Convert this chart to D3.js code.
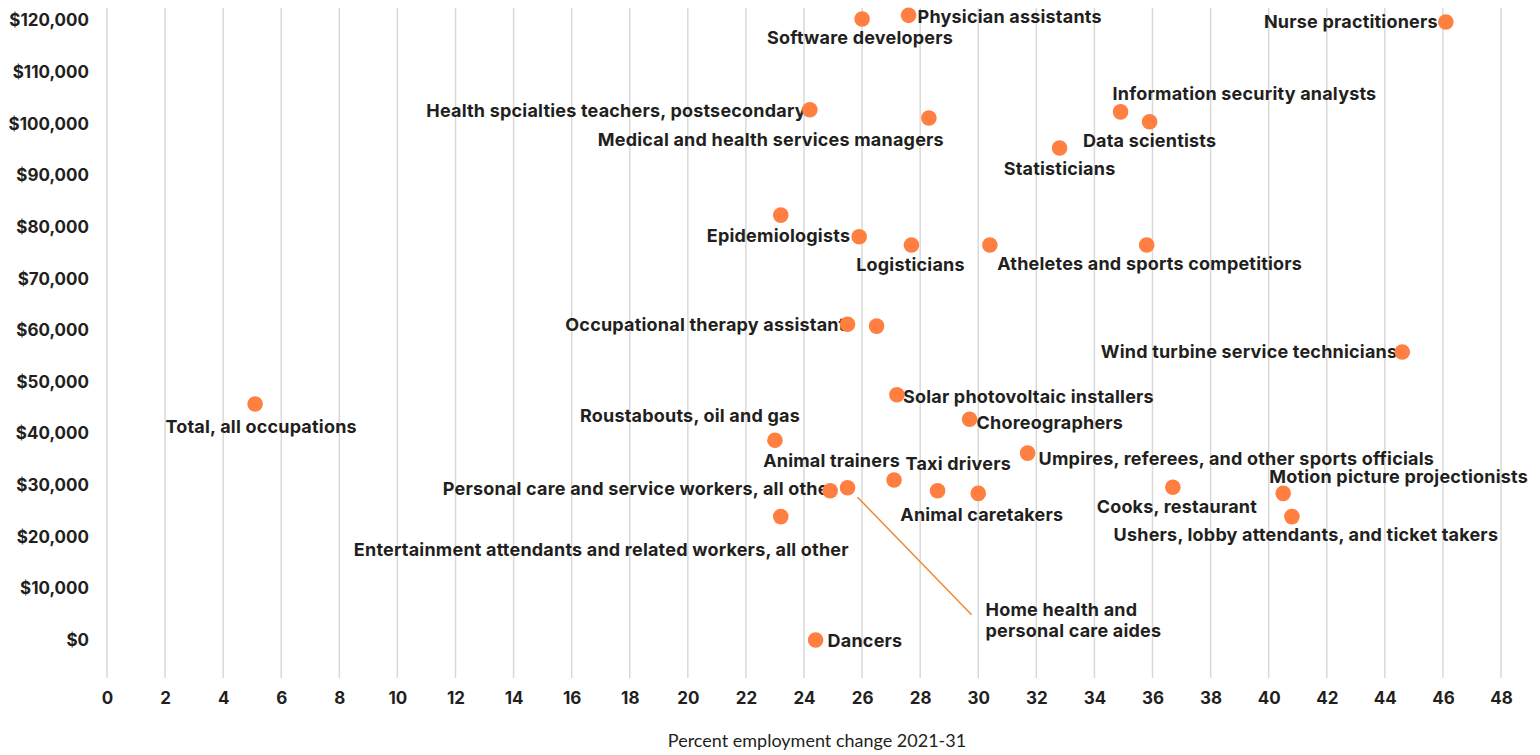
<!DOCTYPE html>
<html>
<head>
<meta charset="utf-8">
<script src="https://cdn.jsdelivr.net/npm/d3@7/dist/d3.min.js"></script>
<style>
  html, body { margin: 0; padding: 0; background: #ffffff; }
  svg { display: block; }
  .lbl { font-family: Inter, "Noto Sans", sans-serif; font-weight: 700; fill: #231f20; }
</style>
</head>
<body>
<svg id="chart" width="1540" height="755"></svg>
<script>
// Occupations: projected employment change 2021-31 (%) vs. median annual wage ($)
const occupations = [
  "Software developers",
  "Physician assistants",
  "Nurse practitioners",
  "Health spcialties teachers, postsecondary",
  "Medical and health services managers",
  "Information security analysts",
  "Data scientists",
  "Statisticians",
  "",
  "Epidemiologists",
  "Logisticians",
  "",
  "Atheletes and sports competitiors",
  "Occupational therapy assistant",
  "",
  "Wind turbine service technicians",
  "Total, all occupations",
  "Solar photovoltaic installers",
  "Choreographers",
  "Roustabouts, oil and gas",
  "Umpires, referees, and other sports officials",
  "Animal trainers",
  "Taxi drivers",
  "Animal caretakers",
  "Personal care and service workers, all other",
  "Home health and personal care aides",
  "Cooks, restaurant",
  "Motion picture projectionists",
  "Ushers, lobby attendants, and ticket takers",
  "Entertainment attendants and related workers, all other",
  "Dancers"
];

const pctChange = [
  26.0, 27.6, 46.1, 24.2, 28.3, 34.9, 35.9, 32.8, 23.2, 25.9, 27.7,
  30.4, 35.8, 25.5, 26.5, 44.6, 5.1, 27.2, 29.7, 23.0, 31.7, 27.1,
  28.6, 30.0, 24.9, 25.5, 36.7, 40.5, 40.8, 23.2, 24.4
];

const medianWage = [
  120300, 121000, 119700, 102700, 101100, 102300, 100400, 95300, 82300, 78100, 76500,
  76500, 76500, 61150, 60800, 55800, 45700, 47500, 42750, 38700, 36200, 31000,
  28900, 28400, 28900, 29500, 29600, 28400, 23900, 23900, 0
];

const xTicks = d3.range(0, 49, 2);
const yTicks = d3.range(0, 120001, 10000);
const xTitle = "Percent employment change 2021-31";

// Callout text for the point with a leader line
const calloutIndex = 25;
const calloutLines = ["Home health and", "personal care aides"];

// Label placement relative to each point: [anchor, dx, dy]
const labelPlacement = [
  ["middle", -2, 19], ["start", 9, 1], ["end", -8, -1], ["end", -4, 1],
  ["end", 15, 21], ["start", -8, -18], ["middle", 0, 19], ["middle", 0, 21],
  null, ["end", -9, -1], ["middle", -1, 19], null, ["middle", 3, 18],
  ["end", -2, 0], null, ["end", -5, 0], ["middle", 6, 22], ["start", 6, 2],
  ["start", 7, 3], ["end", 25, -25], ["start", 11, 5], ["end", 6, -19],
  ["start", -32, -27], ["start", -78, 21], ["end", 6, -2], null,
  ["middle", 4, 19], ["start", -14, -17], ["middle", 14, 18], ["end", 68, 33],
  ["start", 12, 1]
];

const labelSize = 18;
const tickSize = 17;

const svg = d3.select("#chart");
const plot = { left: 107, right: 1501, top: 8, bottom: 678 };

const x = d3.scaleLinear().domain([0, 48]).range([plot.left, plot.right]);
const y = d3.scaleLinear().domain([-7361, 122421]).range([plot.bottom, plot.top]);

// Vertical gridlines at each x tick
svg.append("g")
  .selectAll("line")
  .data(xTicks)
  .join("line")
  .attr("x1", d => x(d)).attr("x2", d => x(d))
  .attr("y1", plot.top).attr("y2", plot.bottom)
  .attr("stroke", "#d9d9d9")
  .attr("stroke-width", 1.5);

// X axis tick labels
const xAxis = d3.axisBottom(x).tickValues(xTicks).tickSize(0).tickPadding(14);
svg.append("g")
  .attr("transform", `translate(0,${plot.bottom})`)
  .call(xAxis)
  .call(g => g.select(".domain").remove())
  .call(g => g.selectAll("text")
    .attr("class", "lbl")
    .attr("font-size", tickSize)
    .attr("font-family", null));

// Y axis tick labels
const yAxis = d3.axisLeft(y).tickValues(yTicks).tickSize(0).tickPadding(18)
  .tickFormat(d => "$" + d3.format(",")(d));
svg.append("g")
  .attr("transform", `translate(${plot.left},0)`)
  .call(yAxis)
  .call(g => g.select(".domain").remove())
  .call(g => g.selectAll("text")
    .attr("class", "lbl")
    .attr("font-size", tickSize)
    .attr("font-family", null));

// X axis title
svg.append("text")
  .attr("x", 817)
  .attr("y", 741)
  .attr("text-anchor", "middle")
  .attr("dy", "0.35em")
  .attr("font-family", "Lato, 'Open Sans', sans-serif")
  .attr("font-size", 18)
  .attr("fill", "#231f20")
  .text(xTitle);

const points = occupations.map((name, i) => ({
  name, px: x(pctChange[i]), py: y(medianWage[i]), place: labelPlacement[i], i
}));

// Point labels (drawn beneath the markers)
svg.append("g")
  .selectAll("text")
  .data(points.filter(p => p.place && p.name))
  .join("text")
  .attr("class", "lbl")
  .attr("font-size", labelSize)
  .attr("letter-spacing", 0.2)
  .attr("x", p => p.px + p.place[1])
  .attr("y", p => p.py + p.place[2])
  .attr("dy", "0.36em")
  .attr("text-anchor", p => p.place[0])
  .text(p => p.name);

// Callout with leader line
const cp = points[calloutIndex];
svg.append("line")
  .attr("x1", cp.px + 10).attr("y1", cp.py + 9.5)
  .attr("x2", cp.px + 124).attr("y2", cp.py + 127)
  .attr("stroke", "#f0892e")
  .attr("stroke-width", 1.5);
svg.append("g")
  .selectAll("text")
  .data(calloutLines)
  .join("text")
  .attr("class", "lbl")
  .attr("font-size", labelSize)
  .attr("letter-spacing", 0.2)
  .attr("x", cp.px + 138)
  .attr("y", (d, k) => cp.py + 122 + k * 20.5)
  .attr("dy", "0.36em")
  .text(d => d);

// Markers
svg.append("g")
  .selectAll("circle")
  .data(points)
  .join("circle")
  .attr("cx", p => p.px)
  .attr("cy", p => p.py)
  .attr("r", 7.8)
  .attr("fill", "#ff7f40");
</script>
</body>
</html>
